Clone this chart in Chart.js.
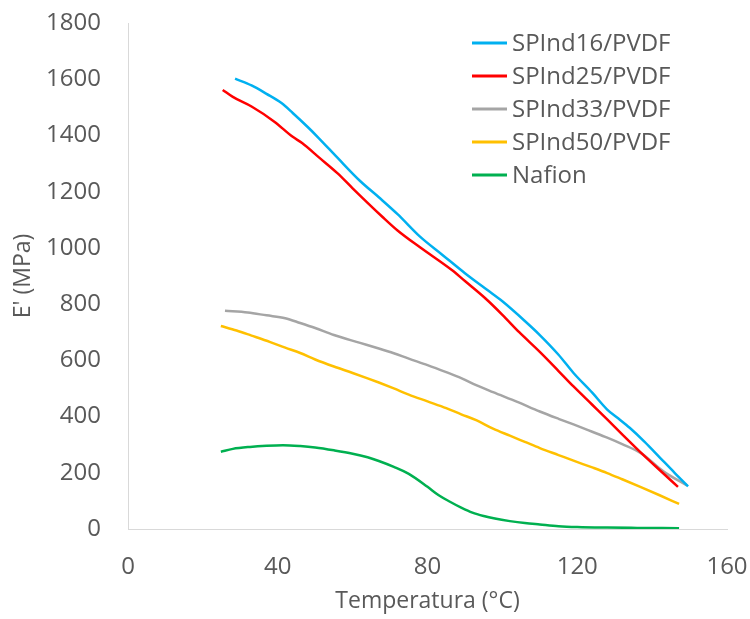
<!DOCTYPE html>
<html>
<head>
<meta charset="utf-8">
<script src="https://cdn.jsdelivr.net/npm/chart.js@4"></script>
<style>
  body { margin: 0; background: #fff; }
</style>
</head>
<body>
<canvas id="chart" width="750" height="619"></canvas>
<script>
// Modulo E' frente a temperatura
const seriesNames = ['SPInd16/PVDF', 'SPInd25/PVDF', 'SPInd33/PVDF', 'SPInd50/PVDF', 'Nafion'];
const seriesColors = ['#00B0F0', '#FF0000', '#A5A5A5', '#FFC000', '#00B050'];

const temp16 = [28.6, 33, 37, 41, 44, 48, 51, 56, 62, 67, 72, 78, 84, 90, 96, 100, 106, 110, 115, 119, 124, 128, 131, 134, 138, 142, 146, 149.6];
const mod16  = [1602, 1578, 1548, 1515, 1480, 1430, 1390, 1320, 1238, 1180, 1120, 1040, 975, 910, 850, 810, 740, 690, 620, 555, 485, 425, 393, 360, 310, 255, 200, 152];

const temp25 = [25.3, 28, 33, 39, 44, 46.5, 51, 56, 60, 68, 72, 78, 86.5, 90, 95.5, 100, 104.5, 110, 115, 119, 124, 128, 132, 137, 142, 146.9];
const mod25  = [1562, 1537, 1503, 1450, 1395, 1373, 1322, 1265, 1212, 1110, 1062, 1002, 921, 882, 820, 762, 700, 630, 562, 507, 442, 390, 337, 272, 210, 150];

const temp33 = [25.9, 32, 37, 42, 46, 50, 55, 62, 67, 71, 75, 80, 85, 89, 93, 97.5, 104, 110, 115, 119, 124, 128, 132, 137, 143, 149.3];
const mod33  = [776, 770, 760, 750, 733, 715, 690, 662, 642, 625, 606, 583, 558, 537, 512, 487, 452, 418, 392, 372, 346, 325, 302, 270, 205, 155];

const temp50 = [24.8, 29, 33, 38, 42, 46, 50, 55, 60, 64, 67, 71, 75, 80, 85, 89, 93, 97.5, 102, 106, 110, 115, 119, 124, 128, 132, 137, 142, 147.2];
const mod50  = [722, 706, 688, 665, 645, 626, 603, 578, 555, 536, 521, 500, 478, 454, 430, 408, 387, 357, 332, 310, 288, 263, 243, 219, 199, 177, 149, 120, 89];

const tempNaf = [24.8, 28, 32.6, 37, 41.4, 46, 50, 55, 60, 64, 67, 71, 75, 80, 83, 86, 89, 92, 95, 98, 102, 106, 110, 115, 120, 128, 136, 147.2];
const modNaf  = [275, 285, 292, 296, 298, 295, 290, 280, 268, 255, 242, 221, 196, 150, 120, 97, 76, 58, 46, 37, 28, 21, 16, 10, 7, 5, 4, 3];

const xTicks = [0, 40, 80, 120, 160];
const yTicks = [0, 200, 400, 600, 800, 1000, 1200, 1400, 1600, 1800];

const allTemps = [temp16, temp25, temp33, temp50, tempNaf];
const allMods = [mod16, mod25, mod33, mod50, modNaf];

const textColor = '#595959';
const fontFamily = '"Open Sans", sans-serif';

const datasets = seriesNames.map((name, i) => ({
    label: name,
    data: allTemps[i].map((t, j) => ({ x: t, y: allMods[i][j] })),
    borderColor: seriesColors[i],
    backgroundColor: seriesColors[i],
    borderWidth: 2.5,
    pointRadius: 0,
    showLine: true,
    cubicInterpolationMode: 'monotone'
}));

// Leyenda dentro del área del gráfico, arriba a la derecha
const insideLegend = {
    id: 'insideLegend',
    afterDraw(chart) {
        const ctx = chart.ctx;
        const x0 = 472, y0 = 43, rowH = 33;
        ctx.save();
        ctx.font = '24px ' + fontFamily;
        ctx.textBaseline = 'middle';
        ctx.textAlign = 'left';
        chart.data.datasets.forEach((ds, i) => {
            const y = y0 + i * rowH;
            ctx.strokeStyle = ds.borderColor;
            ctx.lineWidth = 3;
            ctx.beginPath();
            ctx.moveTo(x0, y);
            ctx.lineTo(x0 + 35, y);
            ctx.stroke();
            ctx.fillStyle = textColor;
            ctx.fillText(ds.label, x0 + 40, y + 1);
        });
        ctx.restore();
    }
};

new Chart(document.getElementById('chart'), {
    type: 'scatter',
    data: { datasets: datasets },
    options: {
        responsive: false,
        animation: false,
        layout: { padding: { top: 23, right: 23, left: 0, bottom: 0 } },
        plugins: {
            legend: { display: false },
            tooltip: { enabled: false }
        },
        scales: {
            x: {
                type: 'linear',
                min: 0,
                max: 160,
                afterBuildTicks: (s) => { s.ticks = xTicks.map(v => ({ value: v })); },
                afterFit: (s) => { s.height = 90; s.paddingLeft = 0; s.paddingRight = 0; },
                grid: { display: false, drawTicks: false },
                border: { display: true, color: '#D9D9D9', width: 1 },
                ticks: { color: textColor, padding: 24, font: { family: fontFamily, size: 24 } },
                title: {
                    display: true,
                    text: 'Temperatura (°C)',
                    color: textColor,
                    padding: { top: 0, bottom: 4 },
                    font: { family: fontFamily, size: 23 }
                }
            },
            y: {
                type: 'linear',
                min: 0,
                max: 1800,
                afterBuildTicks: (s) => { s.ticks = yTicks.map(v => ({ value: v })); },
                afterFit: (s) => { s.width = 128; s.paddingTop = 0; s.paddingBottom = 0; },
                grid: { display: false, drawTicks: false },
                border: { display: true, color: '#D9D9D9', width: 1 },
                ticks: {
                    color: textColor,
                    padding: 27,
                    font: { family: fontFamily, size: 24 },
                    callback: (v) => String(v)
                },
                title: {
                    display: true,
                    text: "E' (MPa)",
                    color: textColor,
                    padding: { top: 10, bottom: 0 },
                    font: { family: fontFamily, size: 23 }
                }
            }
        }
    },
    plugins: [insideLegend]
});
</script>
</body>
</html>
